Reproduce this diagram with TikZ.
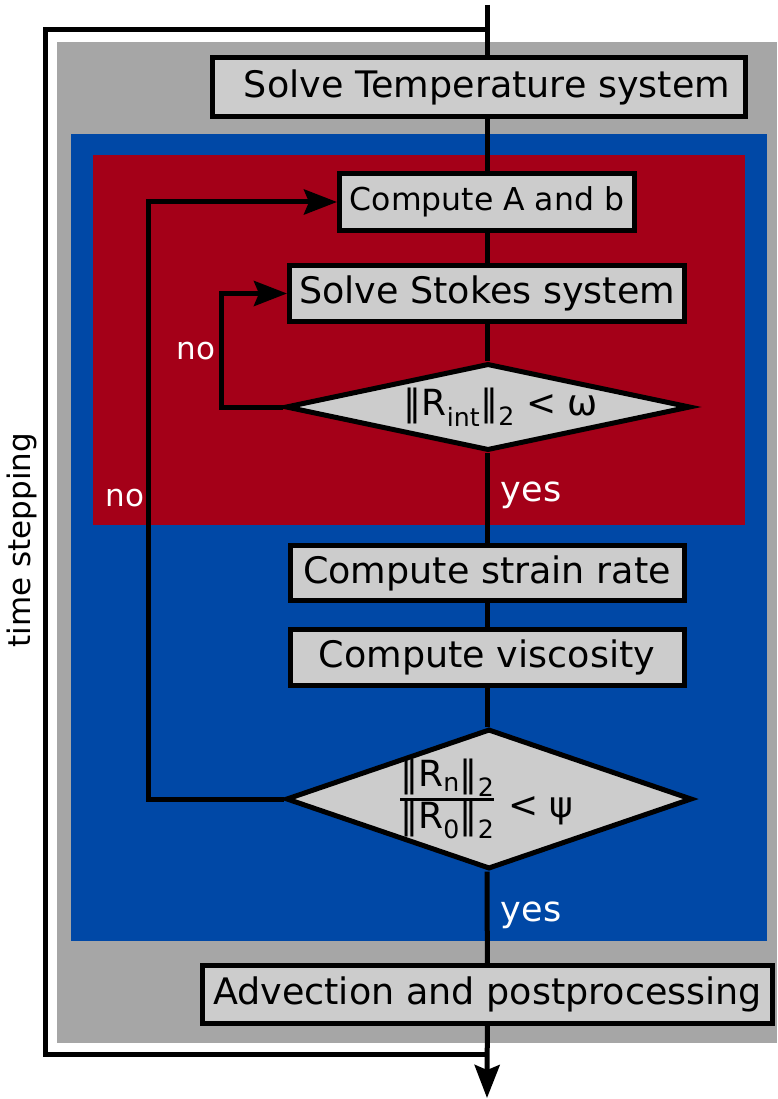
\documentclass[tikz,border=0pt]{standalone}
\usepackage{fontspec}
\setmainfont{DejaVu Sans}
\usetikzlibrary{arrows.meta,shapes.geometric}
\definecolor{bggray}{RGB}{166,166,166}
\definecolor{bgblue}{RGB}{0,72,166}
\definecolor{bgred}{RGB}{164,0,24}
\definecolor{boxgray}{RGB}{204,204,204}
\tikzset{
  box/.style={draw=black, fill=boxgray, line width=5pt, inner sep=0pt, font=\fontsize{36.5}{40}\selectfont},
  smallbox/.style={box, font=\fontsize{31.5}{36}\selectfont},
  dia/.style={diamond, draw=black, fill=boxgray, line width=5pt, inner sep=0pt},
  diatext/.style={inner sep=0pt, font=\fontsize{36}{40}\selectfont},
  conn/.style={draw=black, line width=5pt},
  arr/.style={-{Stealth[length=33pt,width=25pt,inset=5pt]}},
  lab/.style={text=white, inner sep=0pt, font=\fontsize{35}{38}\selectfont},
  nolab/.style={text=white, inner sep=0pt, font=\fontsize{31}{36}\selectfont},
}
\begin{document}
\begin{tikzpicture}[x=1pt,y=-1pt]
\useasboundingbox (0,0) rectangle (777,1099);
% backgrounds
\fill[bggray] (57,42) rectangle (777,1043);
\fill[bgblue] (71,134) rectangle (767,941);
\fill[bgred] (93,155) rectangle (745,525);
% nodes
\node[box, minimum width=533pt, minimum height=59pt] (temp) at (479,87.5) {\hspace*{16pt}Solve Temperature system};
\node[smallbox, minimum width=295pt, minimum height=57pt] (cab) at (487,202) {Compute A and b};
\node[box, minimum width=395pt, minimum height=56pt] (stokes) at (487,293.5) {Solve Stokes system};
\node[dia, minimum width=405pt, minimum height=87pt] (d1) at (488,407) {};
\node[diatext] (d1t) at (501,407) {‖R\textsubscript{int}‖\textsubscript{2} < ω};
\node[box, minimum width=394pt, minimum height=55pt] (strain) at (487,573) {Compute strain rate};
\node[box, minimum width=394pt, minimum height=56pt] (visc) at (487,657.5) {Compute viscosity};
\node[dia, minimum width=406pt, minimum height=140pt] (d2) at (489,799) {};
\node[diatext] (d2t) at (487,799) {\setlength{\arrayrulewidth}{3pt}\renewcommand{\arraystretch}{0.95}\begin{tabular}{@{}c@{}}‖R\textsubscript{n}‖\textsubscript{2}\\\hline ‖R\textsubscript{0}‖\textsubscript{2}\end{tabular}\hspace{14pt}\raisebox{-0.35em}{< ψ}};
\node[box, minimum width=570pt, minimum height=58pt] (adv) at (487.5,994.5) {Advection and postprocessing};
% labels
\node[nolab] (no1) at (196,351) {no};
\node[nolab] (no2) at (125,498) {no};
\node[lab] (yes1) at (531,495) {yes};
\node[lab] (yes2) at (531,915) {yes};
\node[rotate=90, inner sep=0pt, font=\fontsize{31}{36}\selectfont] (ts) at (22,540) {time stepping};
% coordinates
\coordinate (top) at (487,5);
\coordinate (lt) at (487,30);
\coordinate (lc) at (45,1054);
\coordinate (lb) at (487,1054);
\coordinate (bot) at (487,1098);
% connectors
\draw[conn] (top) -- (top |- temp.north);
\draw[conn] (top |- temp.south) -- (cab);
\draw[conn] (cab) -- (stokes);
\draw[conn] (stokes) -- (top |- d1.north);
\draw[conn] (top |- d1.south) -- (strain);
\draw[conn] (strain) -- (visc);
\draw[conn] (visc) -- (top |- d2.north);
\draw[conn] (top |- d2.south) -- (adv);
\draw[conn, arr] (adv) -- (bot);
\draw[conn] (lt) -| (lc) -- (lb);
\draw[conn, arr] (d1.west) -- ++(-62,0) |- (stokes.west);
\draw[conn, arr] (d2.west) -- ++(-135,0) |- (cab.west);
\end{tikzpicture}
\end{document}
